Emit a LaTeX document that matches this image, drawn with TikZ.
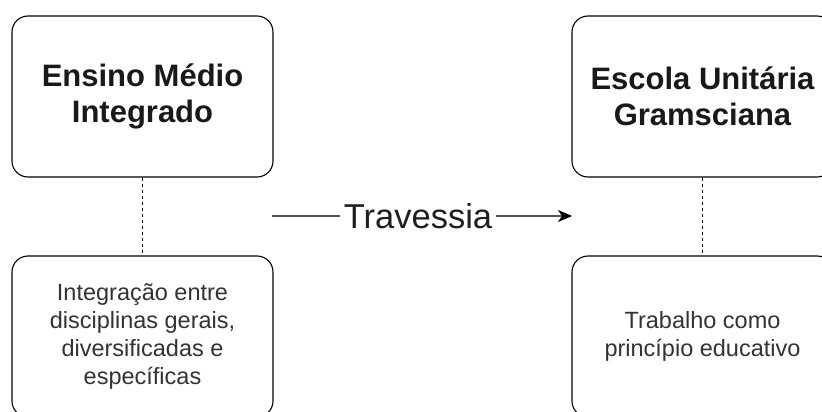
\documentclass[tikz,border=0pt]{standalone}
\usepackage{fontspec}
\setmainfont{Liberation Sans}
\usetikzlibrary{arrows.meta}
\definecolor{txtgray}{HTML}{333333}
\definecolor{linegray}{HTML}{555555}
\tikzset{
  box/.style={draw=black, line width=1.1pt, rounded corners=16pt, fill=white,
    minimum width=261pt, minimum height=161pt, align=center, inner sep=0pt},
  titletext/.style={font=\fontsize{31}{36}\selectfont\bfseries, text=black!90},
  bodytext/.style={font=\fontsize{23.5}{27.7}\selectfont, text=txtgray},
  dashlink/.style={draw=black, line width=1pt, dash pattern=on 3pt off 3pt},
  crossing/.style={draw=linegray, line width=1.3pt, -{Stealth[length=14pt,width=12pt,inset=4pt,fill=black,color=black]}},
  crosslabel/.style={font=\fontsize{34.5}{40}\selectfont, text=black!88, fill=white, inner xsep=4pt, inner ysep=2pt}
}
\begin{document}
\begin{tikzpicture}[x=1pt,y=-1pt]
  \useasboundingbox[fill=white] (0,0) rectangle (822,412);
  \node[box, titletext] (emi) at (142.5,96.5) {Ensino Médio\\Integrado};
  \node[box, bodytext] (emib) at (142.5,336.5) {Integração entre\\disciplinas gerais,\\diversificadas e\\específicas};
  \node[box, titletext] (eug) at (702.5,96.5) {Escola Unitária\\Gramsciana};
  \node[box, bodytext] (eugb) at (702.5,336.5) {Trabalho como\\princípio educativo};
  \draw[dashlink] (emi) -- (emib);
  \draw[dashlink] (eug) -- (eugb);
  \coordinate (cstart) at (272,216);
  \coordinate (cend) at (572,216);
  \draw[crossing] (cstart) -- node[crosslabel, xshift=-4pt] {Travessia} (cend);
\end{tikzpicture}
\end{document}
